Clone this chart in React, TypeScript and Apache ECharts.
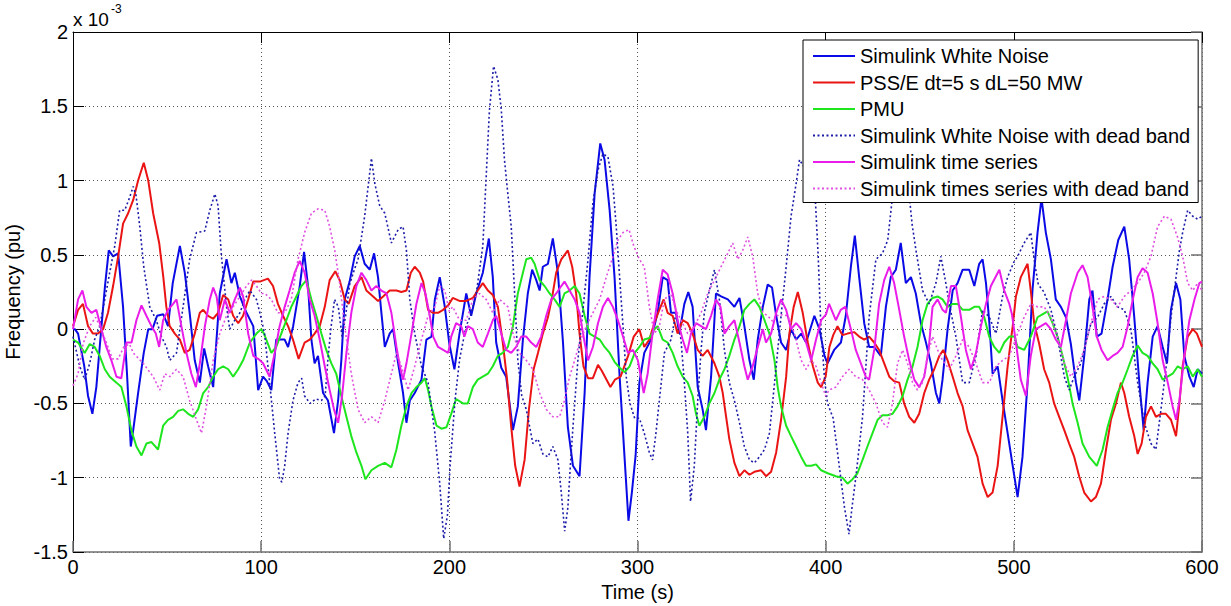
import { useEffect, useRef } from "react";
import * as echarts from "echarts";

// Values in units of 1e-3 pu, as [time (s), value]
const seriesNames = [
  "Simulink White Noise",
  "PSS/E dt=5 s dL=50 MW",
  "PMU",
  "Simulink White Noise with dead band",
  "Simulink time series",
  "Simulink times series with dead band",
];

const whiteNoise: [number, number][] = [
  [0,0],[1,0],[2.7,-0.03],[6,-0.25],[8,-0.45],[10.3,-0.57],[12.4,-0.39],[15,0],[17,0.29],[19,0.53],[21.3,0.49],[24,0.51],[26.6,0.15],[28.7,-0.3],[30.7,-0.79],[32,-0.68],[34.6,-0.43],[37.6,-0.16],[40,0],[42.2,0],[44.7,0.09],[48,0.1],[50.5,0.02],[53,0.31],[56.8,0.56],[59.4,0.38],[62,0.11],[64.7,-0.21],[67.4,-0.36],[69.7,-0.13],[71.8,-0.25],[74.5,-0.39],[78,0.24],[81.6,0.47],[84.2,0.31],[86,0.38],[88.7,0.22],[92.2,0.11],[95.8,0.02],[98.4,-0.41],[101,-0.32],[103,-0.35],[105.4,-0.41],[108,-0.07],[112.5,-0.07],[114.3,-0.12],[117,0.02],[120.5,0.29],[122.8,0.52],[124.9,0.29],[126.7,-0.07],[128.4,-0.23],[130.2,-0.18],[132.9,-0.43],[135.5,-0.48],[138.7,-0.7],[140.9,-0.48],[142.6,-0.21],[144.4,0.2],[147,0.32],[149.7,0.49],[152.4,0.56],[155,0.44],[157.7,0.4],[160,0.51],[162.1,0.35],[163.9,0.11],[165.7,-0.12],[168.3,-0.03],[170.1,0],[172.8,-0.23],[175.4,-0.43],[177.2,-0.63],[179,-0.48],[181.6,-0.43],[185.2,-0.34],[187.8,-0.07],[190.5,-0.05],[192.3,0.2],[194.9,0.35],[197.6,0.15],[200,-0.1],[202.7,-0.27],[205.4,-0.03],[209,0.24],[211.6,0.09],[214.3,0.24],[217.8,0.38],[221,0.61],[223.1,0.35],[224.9,-0.09],[227.6,-0.26],[230.2,-0.32],[233.8,-0.68],[236.4,-0.52],[239.1,-0.07],[241.7,0.24],[244,0.4],[246.2,0.33],[248,0.26],[249.7,0.42],[252.4,0.44],[255,0.61],[257.7,0.38],[260.4,-0.09],[263,-0.66],[265.7,-0.92],[269.2,-0.99],[271.9,-0.43],[274.5,0.35],[277.2,0.91],[280.2,1.25],[282.5,1.14],[285.2,0.8],[287.8,0.35],[290.5,-0.32],[293.2,-0.88],[295.2,-1.29],[297,-1.1],[299,-0.85],[301,-0.36],[303.6,-0.16],[307.2,-0.07],[310.7,0.11],[313.4,0.35],[316,0.33],[317.8,0.11],[320.5,0.11],[322.2,-0.03],[324.9,0.17],[327,0.25],[329.3,0.15],[332,-0.39],[334.6,-0.54],[336.4,-0.68],[339.1,-0.32],[341.7,0.24],[344.4,0.22],[348,0.2],[351.5,0.15],[354.2,0.21],[356.8,0.02],[359.5,-0.21],[361.8,-0.34],[363.9,-0.07],[366.6,0.15],[369.2,0.3],[371.5,0.28],[373.7,0.09],[376.3,-0.09],[379,-0.14],[381.6,0],[384.3,-0.07],[387,-0.03],[389.6,-0.09],[394,0.09],[396.7,0],[399.4,-0.18],[401,-0.23],[404.5,-0.14],[408.1,-0.09],[410.7,0.09],[413.4,0.42],[415.5,0.63],[417.8,0.35],[420.5,0.04],[423.1,-0.12],[425.8,-0.12],[429.3,-0.18],[432,0.15],[434.6,0.35],[437.3,0.4],[439.9,0.58],[442.6,0.31],[445.3,0.35],[447.9,0.24],[450.6,0.04],[453.3,-0.09],[455.9,-0.23],[458.6,-0.43],[460.4,-0.5],[462.1,-0.34],[464.8,0],[467.5,0.26],[470.1,0.31],[472.8,0.4],[476.3,0.4],[479,0.29],[481.6,0.44],[483.4,0.47],[485.2,0.31],[487,0.04],[488.7,-0.3],[491.4,-0.25],[494,-0.48],[496.7,-0.7],[499.4,-0.92],[502,-1.13],[504.6,-0.86],[507.3,-0.36],[509.9,0.26],[512.6,0.65],[514.7,0.88],[517,0.65],[519.7,0.47],[522.3,0.2],[525,0.15],[527.7,0.08],[530.3,-0.1],[533,-0.36],[534.8,-0.48],[537.4,-0.18],[540.1,0.2],[541.8,0.26],[544.1,-0.05],[546.6,-0.03],[549.8,0.2],[552.5,0.42],[555.5,0.6],[558.7,0.69],[561.3,0.47],[564,0.08],[566.7,-0.36],[569,-0.68],[571.1,-0.36],[573.8,-0.05],[576.4,0.02],[579.1,-0.12],[581.4,-0.23],[583.5,0.13],[586.2,0.31],[588.5,0.2],[590.6,-0.18],[593.3,-0.32],[595.6,-0.39],[597.7,-0.27],[600,-0.3],
];

const psse: [number, number][] = [
  [0,0.02],[2.7,0.13],[5.3,0.17],[8,0.02],[10.6,-0.03],[13.3,-0.03],[16,0],[18.6,0.11],[21.3,0.29],[24,0.49],[26.6,0.71],[29.3,0.78],[32,0.87],[34.6,1.0],[37.6,1.12],[40,1.0],[42.6,0.78],[45.8,0.58],[48,0.35],[49.6,0.15],[51.4,0.02],[54.1,-0.03],[56.8,-0.07],[59.4,-0.16],[62,-0.14],[64.7,-0.03],[67.4,0.11],[69.2,0.13],[71.8,0.09],[74.5,0.07],[77.1,0.11],[79.8,0.23],[82.5,0.2],[85.1,0.09],[87.8,0.04],[90.4,0.09],[93.1,0.2],[95.8,0.32],[99.3,0.32],[103.6,0.34],[106.3,0.29],[108.9,0.17],[111.6,0.09],[114.3,0.02],[116.9,-0.07],[119.9,-0.2],[123.1,-0.09],[125.8,-0.07],[128.4,-0.03],[131.1,0.02],[133.8,0.15],[136.4,0.33],[139.4,0.39],[141.7,0.33],[144.4,0.2],[146.5,0.17],[149.7,0.29],[153.3,0.35],[155.9,0.26],[159.5,0.22],[162.1,0.19],[164.8,0.22],[168.3,0.26],[171.9,0.26],[174.5,0.25],[177.2,0.26],[179.5,0.38],[181.6,0.42],[184.3,0.38],[186.1,0.32],[188.7,0.13],[191.4,0.11],[194,0.11],[196.7,0.13],[199.4,0.16],[201.8,0.21],[205.4,0.19],[209,0.19],[212.5,0.21],[215.1,0.26],[217.8,0.31],[220.5,0.26],[223.1,0.23],[225.8,0.15],[228.4,-0.09],[230.7,-0.34],[232.9,-0.66],[235,-0.92],[237.3,-1.06],[240,-0.88],[242.3,-0.54],[244.8,-0.27],[247.1,-0.16],[249.7,-0.03],[252.4,0.08],[254.7,0.22],[256.8,0.38],[259.5,0.47],[263,0.53],[265.3,0.42],[267.4,0.24],[269.2,-0.03],[271.3,-0.25],[273.7,-0.33],[276.3,-0.33],[279,-0.24],[281,-0.28],[285.6,-0.39],[288,-0.34],[291,-0.32],[295,-0.18],[298,-0.05],[301,0],[303.6,-0.12],[306.3,-0.07],[308.9,0.04],[311.6,0.13],[313.9,0.2],[316,0.11],[318.7,0.09],[321.3,-0.03],[324,0.06],[326.7,0.04],[329.3,-0.03],[332,-0.14],[334.6,-0.18],[337.3,-0.14],[340.9,-0.23],[343.5,-0.32],[345.3,-0.43],[347.1,-0.59],[348.8,-0.74],[351.5,-0.9],[354.2,-0.99],[356.8,-0.95],[359.5,-0.98],[362.1,-0.96],[365.7,-0.95],[368.3,-0.99],[371,-0.96],[373.7,-0.83],[376.3,-0.61],[379,-0.32],[380.7,-0.03],[383,0.15],[385.2,0.25],[387.8,0.11],[390.5,-0.09],[393.2,-0.25],[395.8,-0.36],[397.6,-0.39],[400,-0.32],[402,-0.12],[404,-0.04],[406.3,0.02],[408.9,-0.04],[411.6,-0.03],[415.1,-0.02],[417.8,-0.05],[420.5,-0.07],[423.1,-0.05],[425.8,-0.09],[428.4,-0.14],[431.1,-0.23],[433.8,-0.32],[436.4,-0.35],[439.1,-0.36],[441.7,-0.5],[444.4,-0.59],[447.1,-0.63],[449.7,-0.57],[452.4,-0.43],[455,-0.34],[457.7,-0.27],[460.4,-0.18],[462.5,-0.14],[464.8,-0.21],[467.5,-0.32],[470.1,-0.43],[472.8,-0.52],[475.4,-0.68],[478.1,-0.77],[480.7,-0.86],[483.4,-1.04],[486.1,-1.13],[488.7,-1.1],[491.4,-0.92],[494,-0.59],[496.7,-0.25],[499.4,0.02],[501.1,0.22],[503.7,0.35],[507.3,0.44],[509,0.26],[510.8,0.04],[513.5,-0.1],[516.1,-0.27],[518.8,-0.36],[521.4,-0.5],[524.1,-0.59],[526.8,-0.68],[529.4,-0.77],[532.1,-0.86],[534.7,-0.99],[537.4,-1.1],[541,-1.16],[543.6,-1.13],[546.3,-1.04],[549,-0.81],[551.6,-0.61],[554.3,-0.5],[556.9,-0.36],[558.7,-0.43],[561.3,-0.59],[564,-0.72],[565.8,-0.84],[567.9,-0.77],[570.2,-0.59],[572.9,-0.52],[575.5,-0.59],[578.2,-0.57],[580.8,-0.57],[583.5,-0.61],[586.2,-0.72],[588,-0.5],[589.7,-0.25],[592.4,-0.05],[595.1,0],[597.3,-0.03],[600,-0.12],
];

const pmu: [number, number][] = [
  [0,-0.07],[2.7,-0.09],[6.2,-0.16],[8.9,-0.1],[11.5,-0.12],[14.2,-0.18],[16.9,-0.27],[19.5,-0.32],[23.1,-0.36],[25.7,-0.39],[28.4,-0.52],[31,-0.68],[33.7,-0.79],[36.4,-0.85],[39,-0.77],[41.7,-0.76],[45.2,-0.81],[47.9,-0.65],[50.5,-0.61],[53.2,-0.59],[55.9,-0.55],[58.5,-0.54],[61.2,-0.57],[63.9,-0.59],[66.5,-0.54],[69.2,-0.43],[71.8,-0.39],[74.5,-0.32],[77.1,-0.27],[79.8,-0.25],[82.5,-0.27],[85.1,-0.32],[87.8,-0.27],[90.4,-0.21],[94,-0.09],[97.5,-0.03],[100,0],[101.5,-0.03],[105.4,-0.16],[108,-0.12],[110.7,-0.03],[113.4,0.06],[116,0.15],[118.7,0.22],[121.4,0.29],[124,0.33],[126.7,0.2],[129.3,0.09],[132,-0.03],[134.6,-0.14],[137.3,-0.23],[139.9,-0.3],[142.6,-0.45],[145.3,-0.59],[147.9,-0.72],[150.6,-0.83],[153.3,-0.92],[155.4,-1.01],[158.6,-0.95],[162.1,-0.92],[165.7,-0.9],[169.2,-0.93],[171.9,-0.81],[174.5,-0.65],[177.2,-0.52],[179.9,-0.43],[182.5,-0.39],[185.2,-0.36],[187,-0.33],[188.7,-0.41],[190.5,-0.52],[193.2,-0.65],[195.8,-0.67],[198.5,-0.66],[201,-0.57],[203.6,-0.47],[207.2,-0.5],[209.8,-0.5],[212.5,-0.39],[215.1,-0.34],[217.8,-0.32],[220.5,-0.3],[223.1,-0.25],[225.8,-0.18],[228.4,-0.16],[231.1,-0.12],[233.8,0.02],[236.4,0.24],[239.1,0.38],[240.9,0.47],[243.5,0.48],[245.3,0.44],[248,0.33],[250.6,0.29],[253.3,0.24],[255.9,0.2],[258.6,0.15],[261.2,0.24],[263.9,0.26],[266.6,0.29],[269.2,0.24],[271.9,0.09],[274.5,-0.03],[277.2,-0.05],[279.9,-0.07],[282.5,-0.12],[285.2,-0.16],[287.8,-0.22],[290.5,-0.26],[293.2,-0.29],[295.8,-0.25],[298.5,-0.16],[301,-0.12],[303.6,-0.07],[306.3,-0.06],[309,0],[310.7,0.02],[313.4,-0.07],[316,-0.09],[318.7,-0.16],[321.3,-0.25],[324,-0.32],[326.7,-0.36],[329.3,-0.45],[331.1,-0.57],[332.9,-0.65],[335.5,-0.59],[338.2,-0.5],[340.9,-0.43],[343.5,-0.34],[346.2,-0.27],[348.8,-0.18],[351.5,-0.07],[354.2,0.02],[356.8,0.13],[359.5,0.17],[362.1,0.2],[364.8,0.15],[367.5,0.06],[370.1,-0.03],[372.8,-0.21],[374.5,-0.39],[376.3,-0.52],[379,-0.65],[381.6,-0.72],[384.3,-0.79],[387,-0.86],[389.6,-0.92],[392.3,-0.92],[394.9,-0.91],[397.6,-0.95],[401.1,-0.97],[405.4,-0.99],[408.9,-1.0],[411.6,-1.04],[414.3,-1.01],[416.9,-0.97],[419.6,-0.88],[422.2,-0.79],[424.9,-0.7],[427.6,-0.61],[430.2,-0.58],[432.9,-0.58],[435.5,-0.57],[438.2,-0.52],[440.9,-0.45],[443.5,-0.34],[446.2,-0.25],[448.8,-0.12],[451.5,0.06],[454.1,0.17],[456.8,0.21],[459.5,0.22],[462.1,0.2],[464.8,0.15],[467.5,0.17],[470.1,0.17],[472.8,0.13],[476.3,0.13],[479,0.15],[481.6,0.15],[484.3,0.08],[486.9,-0.05],[489.6,-0.12],[492.3,-0.16],[494.9,-0.09],[497.6,-0.05],[500.3,-0.05],[502,-0.12],[505.5,-0.14],[509,-0.05],[512.6,0.08],[515.2,0.1],[517.9,0.12],[520.6,0.04],[523.2,-0.05],[525.9,-0.18],[528.5,-0.32],[531.2,-0.5],[533.9,-0.63],[536.5,-0.77],[540.1,-0.86],[544.1,-0.92],[547.2,-0.81],[549.8,-0.66],[552.5,-0.54],[555.1,-0.43],[557.8,-0.36],[560.5,-0.27],[563.1,-0.18],[565.8,-0.11],[568.4,-0.16],[571.1,-0.18],[573.8,-0.23],[576.4,-0.27],[579.1,-0.34],[581.7,-0.32],[584.4,-0.3],[587.1,-0.25],[589.7,-0.27],[592.4,-0.25],[595.1,-0.32],[597.7,-0.27],[600,-0.32],
];

const whiteNoiseDeadBand: [number, number][] = [
  [0,-0.05],[3.6,-0.25],[6.2,-0.34],[8.9,-0.23],[11.5,-0.07],[14.2,0.02],[16.9,0.2],[19.5,0.38],[22.2,0.56],[24.8,0.8],[27.5,0.8],[30.2,0.89],[32,0.96],[33.5,0.9],[35.5,0.69],[37.6,0.42],[40.8,0.15],[44.3,0.06],[47,-0.05],[49.7,-0.12],[51.4,-0.21],[55,-0.16],[58.5,0.15],[62,0.47],[65.6,0.65],[70,0.66],[72.7,0.8],[75.4,0.91],[77.1,0.83],[78.9,0.49],[81.6,0.15],[83.3,0],[86,0.06],[88.7,0.11],[91.3,0.2],[94,0.26],[97.5,0.2],[99.5,0.1],[101.8,-0.03],[104.5,-0.36],[107.2,-0.7],[109.8,-1.01],[111,-1.03],[112.5,-0.92],[114.3,-0.7],[116.9,-0.48],[119.6,-0.36],[121.5,-0.33],[123.1,-0.45],[126,-0.5],[129,-0.47],[132,-0.48],[134,-0.45],[135.5,-0.2],[137,0],[139,0.2],[141,0.15],[143,-0.05],[145,0.1],[147,0.3],[149.5,0.4],[151.5,0.47],[155,0.76],[158.6,1.15],[160.4,0.98],[163,0.83],[165.7,0.78],[169.2,0.58],[172.8,0.67],[175.4,0.69],[177.2,0.53],[179,0.2],[181.6,-0.03],[185.2,-0.25],[188.7,-0.36],[192.3,-0.7],[194.9,-1.04],[197,-1.41],[199,-1.25],[200.4,-0.92],[203,-0.48],[205.5,-0.2],[208.9,0.02],[211.5,0.1],[214.3,0.24],[217.8,0.56],[219.6,1.03],[221.3,1.47],[223.5,1.77],[225.8,1.68],[227.6,1.48],[229.3,1.14],[231.1,0.91],[232.9,0.69],[234.7,0.24],[236.4,-0.21],[238.5,-0.45],[240.9,-0.54],[244.4,-0.77],[247.1,-0.74],[249.7,-0.84],[252.4,-0.86],[255,-0.79],[257.7,-0.88],[259.5,-1.1],[261.3,-1.36],[263,-1.2],[264.3,-0.92],[265.7,-0.66],[268.3,-0.21],[271,0.13],[273.7,0.47],[276.3,0.85],[279,1.07],[281.6,1.18],[284.3,1.16],[287,0.96],[288.7,0.69],[290.5,0.35],[292.3,0.02],[294,-0.32],[296,-0.5],[298.5,-0.6],[301,-0.6],[303.6,-0.7],[306.3,-0.83],[308,-0.88],[309.8,-0.7],[311.6,-0.48],[314.3,-0.16],[317.8,-0.07],[320.5,0.11],[323.1,-0.07],[324.9,-0.36],[326.7,-0.7],[328.2,-1.16],[330.2,-0.92],[332,-0.48],[333.8,-0.14],[335.5,0.11],[338.2,0.26],[340.9,0.4],[343.5,0.2],[346.2,-0.14],[348.8,-0.36],[351.5,-0.48],[354.2,-0.63],[356.8,-0.79],[359.5,-0.88],[362.1,-0.9],[364.8,-0.86],[367.5,-0.81],[370.1,-0.7],[371.9,-0.48],[373.7,-0.25],[376.3,0.09],[379,0.42],[381.6,0.76],[384.3,0.98],[386.1,1.14],[388,1.1],[391,1.15],[394,1.0],[396,0.5],[397.5,0],[399.5,-0.35],[401,-0.5],[404,-0.6],[407,-0.9],[410,-1.2],[412.4,-1.38],[414,-1.2],[416,-1.0],[419.6,-0.59],[423.1,0.08],[426.7,0.47],[430.2,0.51],[433,0.6],[436,0.95],[440,1.1],[444,0.95],[446,0.7],[448,0.53],[451.5,0.26],[455,0.17],[458.6,0.31],[461.2,0.49],[464,0.3],[466,0.15],[469.2,-0.05],[472.8,-0.36],[476.3,-0.36],[479.9,-0.18],[483.4,0.13],[487,0.08],[490.5,-0.03],[494,0.22],[496.7,0.35],[500,0.45],[502,0.49],[505.5,0.58],[509,0.65],[511,0.45],[513,0.3],[516,0.25],[519.7,0.13],[523.2,-0.05],[526.8,-0.32],[529.4,-0.41],[532.1,-0.32],[535.6,-0.23],[538.3,-0.09],[541,0.04],[544.5,0.08],[548,0.17],[551.6,0.22],[555.1,0.15],[558.7,0.13],[562.2,0],[565.8,-0.36],[569.3,-0.63],[572.9,-0.77],[575.5,-0.81],[578.2,-0.54],[580.8,-0.27],[583.5,0.08],[586.2,0.35],[588,0.53],[589.7,0.65],[592.4,0.8],[595.1,0.76],[597.7,0.74],[600,0.76],
];

const timeSeries: [number, number][] = [
  [0,0],[2.7,0.2],[5,0.26],[7.1,0.15],[9.8,0.11],[12.4,0.13],[15.1,0],[17.7,-0.12],[20.4,-0.21],[23.1,-0.32],[25.7,-0.33],[28.4,-0.09],[31.1,-0.09],[33.7,0.06],[36.4,0.16],[39,0.09],[41.7,0.02],[44,-0.03],[45.8,-0.12],[47.9,0.06],[50.5,0.13],[53.2,0.17],[55,0.2],[57.6,0.02],[60.3,-0.16],[62.9,-0.3],[65.3,-0.39],[67.4,-0.23],[70.1,0.02],[72.7,0.2],[74.5,0.28],[76.3,0.22],[78,0.06],[80.7,0.2],[83.3,0.11],[86,0.2],[88.7,0.28],[90.4,0.22],[93.1,-0.03],[95.8,-0.18],[98.4,-0.2],[101,-0.23],[104.5,-0.32],[107.2,-0.16],[109.8,0.02],[112.5,0.15],[115.1,0.26],[117.8,0.38],[120.5,0.46],[123.1,0.38],[125.8,0.2],[128.4,0.09],[131.1,-0.07],[133.8,-0.25],[136.4,-0.41],[138.7,-0.54],[140.9,-0.63],[143,-0.45],[145.3,-0.16],[147.9,0.11],[150.6,0.29],[153.3,0.38],[155.9,0.33],[158.6,0.26],[161.2,0.29],[163.9,0.26],[166.6,0.24],[169.2,0.11],[171.9,-0.12],[173.7,-0.25],[175.4,-0.34],[177.2,-0.23],[179.9,-0.03],[182.5,0.17],[185.2,0.31],[187.3,0.24],[189.6,0.09],[191.4,-0.05],[194,-0.12],[196.7,-0.14],[199.4,-0.16],[201,-0.05],[203.6,0.04],[206.3,0.02],[208,-0.05],[209.8,0.02],[212.5,0],[215.1,-0.09],[217.8,-0.12],[220.5,-0.03],[223.1,0.06],[224.9,0.09],[227.6,-0.03],[230.2,-0.14],[232.9,-0.16],[235.5,-0.12],[238.2,-0.05],[240.9,-0.05],[243.5,-0.09],[246.2,-0.12],[248.8,-0.05],[251.5,0.09],[254.2,0.2],[256.8,0.24],[259.5,0.29],[261.2,0.32],[263.9,0.26],[266.6,0.2],[269.2,0.11],[271.9,-0.09],[273.7,-0.21],[276.3,-0.12],[279,0.04],[281.6,0.15],[284.3,0.21],[286.9,0.15],[289.6,0.06],[292.3,-0.05],[294.9,-0.16],[297.6,-0.14],[300.2,-0.21],[301.5,-0.3],[303.3,-0.43],[305.4,-0.3],[308,-0.03],[310.7,0.2],[313.4,0.4],[316,0.37],[318.7,0.24],[321.3,0.06],[324,-0.07],[326.3,-0.16],[328.4,-0.03],[331.1,0.04],[333.8,0.02],[336.4,0],[339.1,0.09],[341.7,0.2],[344.1,0.15],[346.2,-0.03],[348.8,0.02],[351.5,0.06],[354.2,-0.09],[356.8,-0.25],[358.6,-0.34],[361.2,-0.25],[363.9,-0.12],[366.6,0],[368.3,-0.09],[371,-0.03],[373.7,0.11],[376.3,0.2],[379,0.13],[381.6,0],[384.3,0.04],[387,0],[389.6,-0.09],[392.3,-0.21],[394.9,-0.07],[397.6,0.06],[400.2,0.1],[401.8,0.17],[405.4,0.06],[408,0.13],[410.4,0.15],[413.4,0],[416,-0.14],[418.7,-0.23],[421.3,-0.32],[423.1,-0.34],[425.8,-0.14],[428.4,0.17],[431.1,0.33],[433.8,0.42],[436.4,0.31],[439.1,0.13],[441.7,-0.05],[444.4,-0.21],[447.1,-0.34],[449.7,-0.39],[452.4,-0.32],[454.7,-0.14],[456.8,0.15],[459.5,0.2],[462.1,0.13],[463.9,0.11],[466.6,0.29],[469.2,0.29],[471.9,0.08],[474.5,-0.14],[477.2,-0.27],[479.9,-0.16],[482.5,0.02],[485.2,0.17],[487.8,0.29],[492.3,0.4],[494.9,0.26],[497.6,0.17],[499,0.1],[501.1,-0.09],[503.7,-0.34],[506.4,-0.45],[509,-0.18],[511.7,0],[514.4,0.02],[517,0.04],[519.7,0],[522.3,-0.07],[525,-0.12],[527.7,0.06],[530.3,0.24],[533.9,0.38],[536.5,0.43],[539.2,0.35],[541.8,0.15],[544.1,-0.05],[546.6,-0.14],[549.8,-0.21],[552.5,-0.18],[555.1,-0.16],[557.8,-0.12],[560.5,0.02],[563.2,0.2],[565.8,0.35],[568.4,0.41],[571.1,0.38],[573.8,0.24],[576.4,0.04],[579.1,-0.21],[581.8,-0.36],[584.4,-0.52],[586.2,-0.61],[588,-0.48],[590.6,-0.18],[593.3,0.06],[596,0.2],[598.6,0.31],[600,0.32],
];

const timeSeriesDeadBand: [number, number][] = [
  [0,-0.38],[2.7,-0.3],[5.3,-0.1],[8.9,0.02],[12,0.08],[15,0],[18,-0.1],[21,-0.2],[24,-0.2],[27,-0.12],[30,-0.1],[32,-0.16],[37.3,-0.23],[42.6,-0.32],[46.1,-0.41],[48.8,-0.3],[51.4,-0.32],[55,-0.27],[58.5,-0.32],[62,-0.48],[65.6,-0.61],[68.3,-0.7],[70.9,-0.52],[74.5,-0.21],[78,-0.03],[81.6,0.09],[85.1,0.15],[88.7,0.22],[92.2,0.29],[94.9,0.33],[97.5,0.29],[100.2,0.24],[102,0.24],[105.4,0.2],[108.9,0.11],[112.5,0.11],[116,0.2],[119.6,0.47],[123.1,0.65],[126.7,0.78],[130.2,0.81],[133.8,0.8],[136.4,0.69],[139.1,0.53],[141.7,0.31],[144.4,0.02],[147.9,-0.3],[151.5,-0.54],[155,-0.63],[158.6,-0.59],[162.1,-0.63],[165.7,-0.48],[169.2,-0.3],[171.9,-0.16],[174.5,-0.25],[178.1,-0.41],[181.6,-0.25],[185.2,-0.07],[188.7,0.09],[192.3,0.15],[194.9,0.29],[197.6,0.26],[200,0.12],[201.8,0.15],[205.4,0.06],[209,0.06],[212.5,0.2],[216,0.24],[219.6,0.2],[223.1,0.11],[226.7,0.2],[231.1,0.15],[233.8,-0.03],[237.3,-0.16],[240.9,-0.21],[244.4,-0.27],[248,-0.43],[251.5,-0.54],[255,-0.59],[258.6,-0.59],[261.2,-0.48],[263.9,-0.32],[266.6,-0.21],[269.2,-0.09],[272.8,0.02],[276.3,0.11],[279.9,0.2],[283.4,0.35],[287,0.49],[289.6,0.6],[292.3,0.65],[295.5,0.67],[298,0.56],[301,0.47],[303.6,0.42],[306.3,0.15],[309,-0.03],[311.6,0.02],[314.3,0.2],[317.8,0.24],[320.5,0.13],[323.1,0.06],[326.7,-0.03],[330.2,0.02],[333.8,0.11],[337.3,0.24],[340.9,0.33],[344.4,0.42],[348,0.51],[350.6,0.58],[353.3,0.47],[355.9,0.53],[358.6,0.62],[361.2,0.49],[363.9,0.24],[366.6,0.11],[369.2,0.09],[372,0.05],[375,0.1],[379.9,0.09],[383.4,-0.03],[387,-0.21],[389.6,-0.27],[392.3,-0.21],[394.9,-0.25],[397.6,-0.36],[400,-0.45],[401.8,-0.41],[405.4,-0.39],[408.9,-0.32],[412.5,-0.27],[416,-0.32],[419.6,-0.34],[423.1,-0.41],[426.7,-0.5],[430.2,-0.63],[432.9,-0.66],[435.5,-0.5],[438.2,-0.23],[440.9,-0.14],[443.5,-0.23],[446.2,-0.36],[448.8,-0.41],[451.5,-0.36],[454.1,-0.18],[456.8,-0.05],[459.5,-0.14],[462.1,-0.21],[465.7,-0.27],[469.2,-0.18],[472.8,-0.07],[476.3,-0.12],[479.9,-0.23],[483.4,-0.36],[487,-0.36],[490.5,-0.25],[494,-0.21],[497.6,-0.18],[500,-0.1],[502,-0.03],[505.5,0.08],[509,0.17],[512.6,0.15],[516.1,0.15],[519.7,0.08],[523.2,-0.05],[526.8,-0.23],[530.3,-0.32],[533.9,-0.25],[537.4,-0.14],[541,0.04],[544.5,0.2],[548,0.22],[551.6,0.2],[555.1,0.15],[558.7,0.22],[562.2,0.26],[565.8,0.31],[569.3,0.38],[572.9,0.49],[576.4,0.69],[580,0.76],[583.5,0.74],[587,0.62],[589.7,0.49],[592.4,0.31],[595.1,0.26],[597.7,0.31],[600,0.26],
];

const FONT = "'Liberation Sans', Arial, Helvetica, sans-serif";
const DOT: number[] = [2, 2.5];

export default function App() {
  const ref = useRef<HTMLDivElement>(null);
  useEffect(() => {
    if (!ref.current) return;
    const chart = echarts.init(ref.current, null, { renderer: "svg" });
    const styles = [
      { color: "#0a0ae6", width: 2, type: "solid" as any },
      { color: "#ea1414", width: 2, type: "solid" as any },
      { color: "#1ee61e", width: 2, type: "solid" as any },
      { color: "#1c1ca8", width: 1.6, type: DOT as any },
      { color: "#ea1cea", width: 2, type: "solid" as any },
      { color: "#e050e0", width: 1.6, type: DOT as any },
    ];
    const datasets = [whiteNoise, psse, pmu, whiteNoiseDeadBand, timeSeries, timeSeriesDeadBand];
    const axisCommon = {
      type: "value" as const,
      splitLine: { show: false },
      axisLabel: { show: false },
    };
    chart.setOption({
      animation: false,
      backgroundColor: "#ffffff",
      textStyle: { fontFamily: FONT },
      grid: { left: 73, top: 32, width: 1129, height: 520, containLabel: false, outerBoundsMode: "none" },
      legend: {
        data: seriesNames,
        orient: "vertical",
        left: 803,
        top: 40,
        itemWidth: 42,
        itemHeight: 20,
        itemGap: 6.5,
        padding: [6, 8, 4, 9],
        backgroundColor: "#ffffff",
        borderColor: "#000000",
        borderWidth: 1,
        borderRadius: 0,
        selectedMode: false,
        itemStyle: { color: "rgba(0,0,0,0)", borderWidth: 0, opacity: 0 },
        textStyle: { fontSize: 20, color: "#000", fontFamily: FONT },
        z: 10,
      },
      xAxis: [
        {
          type: "value",
          min: 0,
          max: 600,
          interval: 100,
          position: "bottom",
          name: "Time (s)",
          nameLocation: "middle",
          nameGap: 30,
          nameTextStyle: { fontSize: 20, color: "#000", fontFamily: FONT },
          axisLine: { show: true, onZero: false, lineStyle: { color: "#707070", width: 1.5 } },
          axisTick: { show: true, inside: true, length: 11, lineStyle: { color: "#707070", width: 1.5 } },
          axisLabel: { fontSize: 20, color: "#000", margin: 5, fontFamily: FONT },
          splitLine: { show: true, lineStyle: { color: "#555", width: 1, type: [1, 3] } },
        },
        {
          ...axisCommon,
          min: 0,
          max: 600,
          interval: 100,
          position: "top",
          axisLine: { show: true, onZero: false, lineStyle: { color: "#000", width: 1 } },
          axisTick: { show: true, inside: true, length: 11, lineStyle: { color: "#000", width: 1 } },
        },
      ],
      yAxis: [
        {
          type: "value",
          min: -1.5,
          max: 2,
          interval: 0.5,
          position: "left",
          name: "Frequency (pu)",
          nameLocation: "middle",
          nameGap: 46,
          nameTextStyle: { fontSize: 20, color: "#000", fontFamily: FONT },
          axisLine: { show: true, onZero: false, lineStyle: { color: "#000", width: 1 } },
          axisTick: { show: true, inside: true, length: 11, lineStyle: { color: "#000", width: 1 } },
          axisLabel: { fontSize: 20, color: "#000", margin: 5, fontFamily: FONT },
          splitLine: { show: true, lineStyle: { color: "#555", width: 1, type: [1, 3] } },
        },
        {
          ...axisCommon,
          min: -1.5,
          max: 2,
          interval: 0.5,
          position: "right",
          axisLine: { show: true, onZero: false, lineStyle: { color: "#707070", width: 1.5 } },
          axisTick: { show: true, inside: true, length: 11, lineStyle: { color: "#707070", width: 1.5 } },
        },
      ],
      graphic: [
        {
          type: "text",
          x: 73,
          y: 19,
          style: { text: "x 10", fontSize: 19, fill: "#000", font: `19px ${FONT}`, verticalAlign: "middle", align: "left" },
        },
        {
          type: "text",
          x: 111,
          y: 9,
          style: { text: "-3", fontSize: 12, fill: "#000", font: `12px ${FONT}`, verticalAlign: "middle", align: "left" },
        },
      ],
      series: datasets.map((d, i) => ({
        name: seriesNames[i],
        type: "line",
        xAxisIndex: 0,
        yAxisIndex: 0,
        data: d,
        symbol: "none",
        showSymbol: false,
        smooth: false,
        silent: true,
        clip: true,
        z: 2 + i * 0.01,
        itemStyle: { color: styles[i].color },
        lineStyle: { color: styles[i].color, width: styles[i].width, type: styles[i].type },
        emphasis: { disabled: true },
      })),
    });
    return () => chart.dispose();
  }, []);
  return (
    <div style={{ position: "fixed", left: 0, top: 0, width: 1231, height: 606, background: "#fff" }}>
      <div ref={ref} style={{ width: 1231, height: 606 }} />
    </div>
  );
}
